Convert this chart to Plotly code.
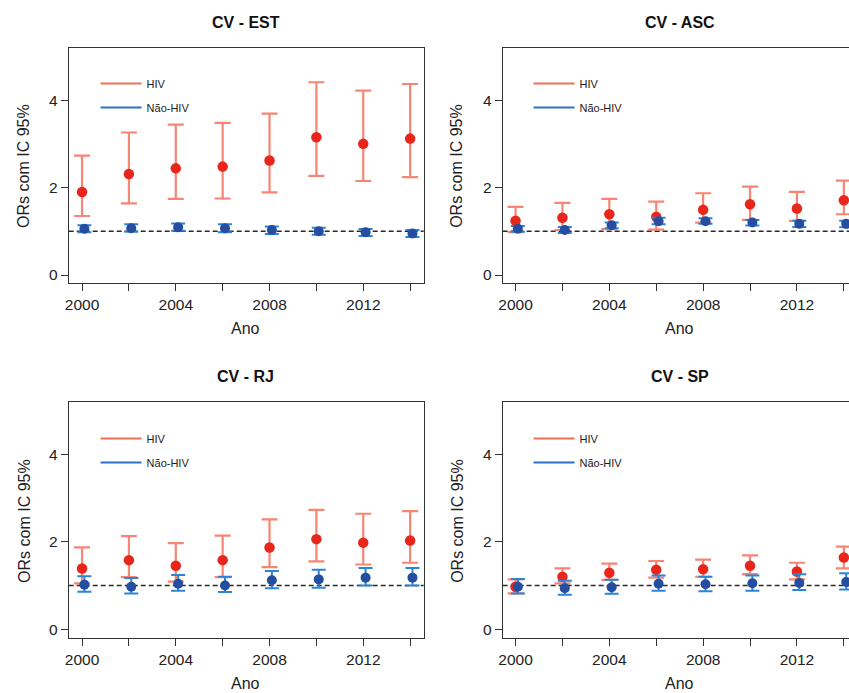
import plotly.graph_objects as go

# ---------------- data ----------------
years = [2000, 2002, 2004, 2006, 2008, 2010, 2012, 2014]
year_labels = ["2000", "", "2004", "", "2008", "", "2012", ""]
y_ticks = [0, 2, 4]
panel_titles = ["CV - EST", "CV - ASC", "CV - RJ", "CV - SP"]
series_names = ["HIV", "Não-HIV"]
reference_or = 1

est_hiv_or = [1.90, 2.31, 2.44, 2.48, 2.62, 3.15, 3.00, 3.12]
est_hiv_lo = [1.35, 1.64, 1.74, 1.75, 1.89, 2.27, 2.15, 2.24]
est_hiv_hi = [2.73, 3.26, 3.44, 3.48, 3.69, 4.41, 4.22, 4.37]
est_nhiv_or = [1.06, 1.07, 1.09, 1.07, 1.03, 1.00, 0.98, 0.95]
est_nhiv_lo = [0.98, 0.99, 1.01, 0.98, 0.94, 0.92, 0.89, 0.87]
est_nhiv_hi = [1.14, 1.16, 1.18, 1.16, 1.11, 1.08, 1.05, 1.03]

asc_hiv_or = [1.24, 1.31, 1.39, 1.33, 1.49, 1.62, 1.52, 1.71]
asc_hiv_lo = [0.98, 1.03, 1.05, 1.04, 1.20, 1.26, 1.24, 1.39]
asc_hiv_hi = [1.56, 1.65, 1.74, 1.68, 1.87, 2.02, 1.90, 2.16]
asc_nhiv_or = [1.06, 1.03, 1.14, 1.23, 1.23, 1.20, 1.17, 1.17]
asc_nhiv_lo = [0.99, 0.96, 1.07, 1.16, 1.17, 1.13, 1.10, 1.09]
asc_nhiv_hi = [1.12, 1.10, 1.20, 1.31, 1.30, 1.26, 1.24, 1.24]

rj_hiv_or = [1.39, 1.58, 1.45, 1.58, 1.87, 2.06, 1.98, 2.03]
rj_hiv_lo = [1.05, 1.19, 1.09, 1.19, 1.42, 1.55, 1.48, 1.52]
rj_hiv_hi = [1.87, 2.13, 1.97, 2.14, 2.51, 2.73, 2.64, 2.70]
rj_nhiv_or = [1.02, 0.97, 1.04, 1.00, 1.12, 1.14, 1.18, 1.18]
rj_nhiv_lo = [0.86, 0.82, 0.88, 0.85, 0.94, 0.95, 1.00, 1.00]
rj_nhiv_hi = [1.21, 1.17, 1.24, 1.20, 1.33, 1.36, 1.40, 1.40]

sp_hiv_or = [0.97, 1.20, 1.29, 1.36, 1.37, 1.45, 1.32, 1.64]
sp_hiv_lo = [0.82, 1.05, 1.13, 1.18, 1.20, 1.26, 1.14, 1.39]
sp_hiv_hi = [1.14, 1.39, 1.50, 1.56, 1.59, 1.69, 1.52, 1.89]
sp_nhiv_or = [0.97, 0.94, 0.96, 1.04, 1.03, 1.05, 1.06, 1.08]
sp_nhiv_lo = [0.82, 0.79, 0.81, 0.88, 0.87, 0.88, 0.90, 0.91]
sp_nhiv_hi = [1.15, 1.11, 1.13, 1.23, 1.20, 1.23, 1.26, 1.28]

panels = [
    (est_hiv_or, est_hiv_lo, est_hiv_hi, est_nhiv_or, est_nhiv_lo, est_nhiv_hi),
    (asc_hiv_or, asc_hiv_lo, asc_hiv_hi, asc_nhiv_or, asc_nhiv_lo, asc_nhiv_hi),
    (rj_hiv_or, rj_hiv_lo, rj_hiv_hi, rj_nhiv_or, rj_nhiv_lo, rj_nhiv_hi),
    (sp_hiv_or, sp_hiv_lo, sp_hiv_hi, sp_nhiv_or, sp_nhiv_lo, sp_nhiv_hi),
]

# ---------------- style / layout ----------------
W, H = 849, 693
FONT = "Arial, 'Liberation Sans', Helvetica, sans-serif"
RED_PT = "rgb(232,38,28)"
RED_ERR = "rgba(244,112,92,0.85)"
BLUE_PT = "rgb(38,78,160)"
BLUE_ERR = "rgb(44,132,212)"
LEG_RED = "rgb(242,110,84)"
LEG_BLUE = "rgb(44,112,200)"
AX = "#333333"
BLUE_SHIFT = 0.1

# pixel geometry of each panel: (left, right, top, bottom, xmin, xmax, ymin, ymax)
geo = [
    (65, 421.7, 47.7, 283.0, 1999.43, 2014.58, -0.183, 5.20),
    (501, 849, 47.7, 283.0, 1999.45, 2014.22, -0.183, 5.20),
    (65, 421.7, 401.7, 638.3, 1999.43, 2014.58, -0.206, 5.20),
    (501, 849, 401.7, 638.3, 1999.45, 2014.22, -0.206, 5.20),
]
# title / label centers (px)
title_cx = [243, 679, 243, 679]
title_cy = [22, 22, 376, 376]
xlab_cy = [328, 328, 683, 683]
ylab_cx = [20, 455, 20, 455]
ylab_cy = [166, 166, 521, 521]
leg_left = [92, 527, 92, 527]
leg_top = [69, 69, 424, 424]

fig = go.Figure()
annotations = []
shapes = []
layout_axes = {}

for i, (h_or, h_lo, h_hi, n_or, n_lo, n_hi) in enumerate(panels):
    k = i + 1
    xa = "x" if k == 1 else f"x{k}"
    ya = "y" if k == 1 else f"y{k}"
    leg = "legend" if k == 1 else f"legend{k}"
    left, right, top, bottom, x0, x1, y0, y1 = geo[i]

    fig.add_trace(go.Scatter(
        x=years, y=h_or, mode="markers", xaxis=xa, yaxis=ya,
        marker=dict(color=RED_PT, size=10.5),
        error_y=dict(type="data", symmetric=False,
                     array=[hi - v for hi, v in zip(h_hi, h_or)],
                     arrayminus=[v - lo for lo, v in zip(h_lo, h_or)],
                     color=RED_ERR, thickness=2.2, width=8),
        showlegend=False, name=series_names[0]))
    fig.add_trace(go.Scatter(
        x=[y + BLUE_SHIFT for y in years], y=n_or, mode="markers", xaxis=xa, yaxis=ya,
        marker=dict(color=BLUE_PT, size=10),
        error_y=dict(type="data", symmetric=False,
                     array=[hi - v for hi, v in zip(n_hi, n_or)],
                     arrayminus=[v - lo for lo, v in zip(n_lo, n_or)],
                     color=BLUE_ERR, thickness=2, width=7),
        showlegend=False, name=series_names[1]))

    # legend entries (line keys)
    for name, col, grp in [(series_names[0], LEG_RED, "a"), (series_names[1], LEG_BLUE, "b")]:
        fig.add_trace(go.Scatter(
            x=[None], y=[None], mode="lines", xaxis=xa, yaxis=ya,
            line=dict(color=col, width=2.2), name=name, legend=leg,
            legendgroup=f"{grp}{k}", showlegend=True))

    layout_axes[leg] = dict(
        x=leg_left[i] / W, y=1 - leg_top[i] / H, xanchor="left", yanchor="top",
        bgcolor="rgba(0,0,0,0)", borderwidth=0, font=dict(size=11, color="#222", family=FONT),
        tracegroupgap=5, traceorder="grouped", itemwidth=41)

    xname = "xaxis" if k == 1 else f"xaxis{k}"
    yname = "yaxis" if k == 1 else f"yaxis{k}"
    layout_axes[xname] = dict(
        domain=[left / W, right / W], range=[x0, x1], anchor=ya,
        tickvals=years, ticktext=year_labels, ticks="outside", ticklen=7,
        tickwidth=1, tickcolor=AX, showline=True, linecolor=AX, linewidth=1,
        mirror=True, showgrid=False, zeroline=False,
        tickfont=dict(size=15.5, color="#222", family=FONT))
    layout_axes[yname] = dict(
        domain=[1 - bottom / H, 1 - top / H], range=[y0, y1], anchor=xa,
        tickvals=y_ticks, ticks="outside", ticklen=7, tickwidth=1, tickcolor=AX,
        showline=True, linecolor=AX, linewidth=1, mirror=(k in (1, 3)),
        showgrid=False, zeroline=False,
        tickfont=dict(size=15.5, color="#222", family=FONT))

    shapes.append(dict(type="line", xref=f"{xa} domain", yref=ya, x0=0, x1=1,
                       y0=reference_or, y1=reference_or,
                       line=dict(color="#2a2a2a", width=1.6, dash="5px,3px"), layer="below"))

    annotations.append(dict(text=f"<b>{panel_titles[i]}</b>", x=title_cx[i] / W,
                            y=1 - title_cy[i] / H, xref="paper", yref="paper",
                            showarrow=False, xanchor="center", yanchor="middle",
                            font=dict(size=16, color="#111", family=FONT)))
    annotations.append(dict(text="Ano", x=title_cx[i] / W, y=1 - xlab_cy[i] / H,
                            xref="paper", yref="paper", showarrow=False,
                            xanchor="center", yanchor="middle",
                            font=dict(size=16, color="#222", family=FONT)))
    annotations.append(dict(text="ORs com IC 95%", x=ylab_cx[i] / W, y=1 - ylab_cy[i] / H,
                            xref="paper", yref="paper", showarrow=False, textangle=-90,
                            xanchor="center", yanchor="middle",
                            font=dict(size=16, color="#222", family=FONT)))

fig.update_layout(
    width=W, height=H, margin=dict(l=0, r=0, t=0, b=0),
    paper_bgcolor="white", plot_bgcolor="white",
    font=dict(family=FONT, color="#222"),
    annotations=annotations, shapes=shapes, **layout_axes)

fig.write_html("out.html")
